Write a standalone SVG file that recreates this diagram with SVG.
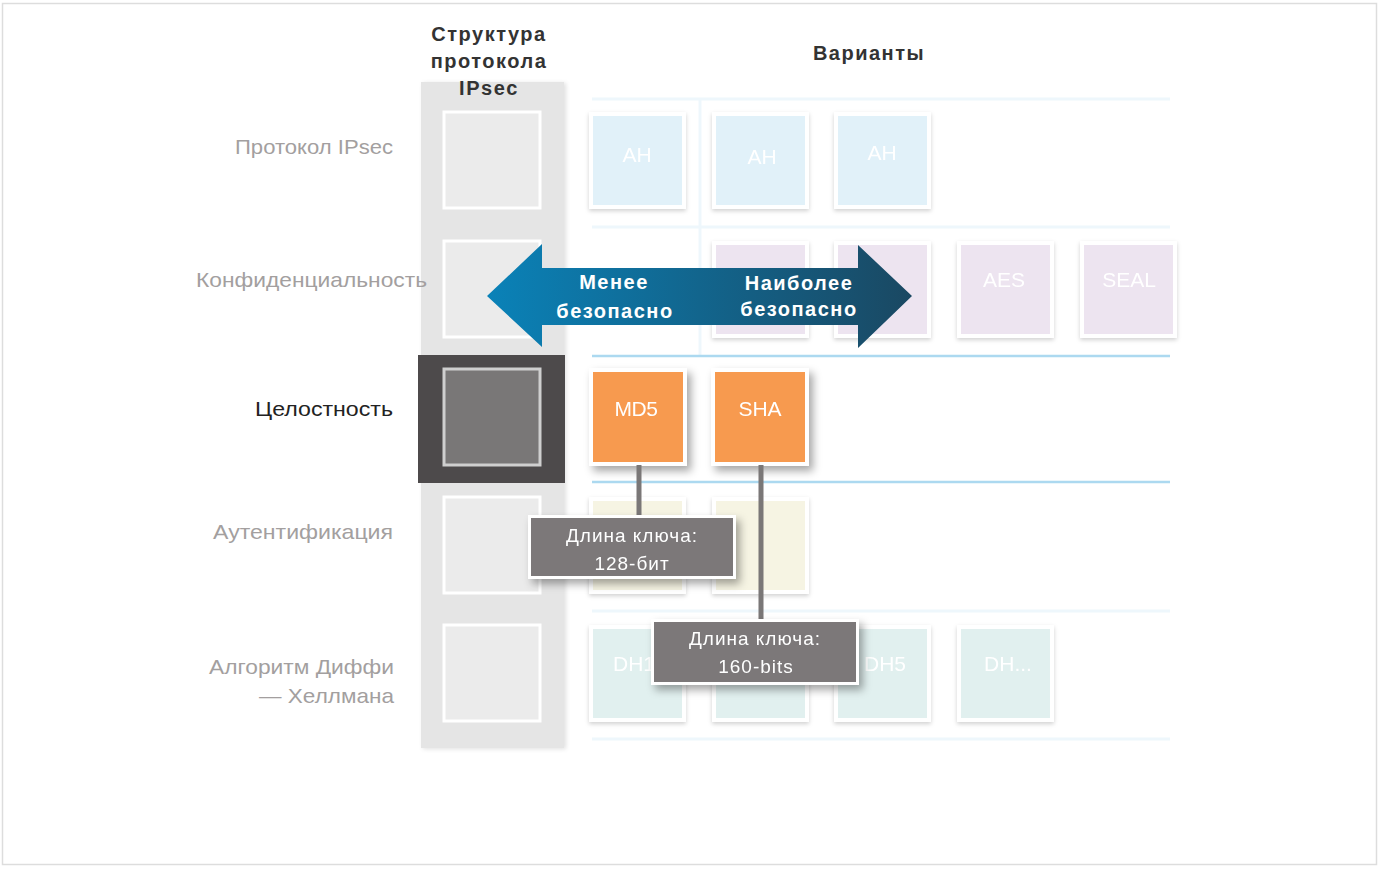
<svg xmlns="http://www.w3.org/2000/svg" width="1381" height="870" viewBox="0 0 1381 870">
  <defs>
    <style>
      .lbl { font-family: "Liberation Sans", Arial, sans-serif; font-size: 21px; fill: #a39f9f; text-anchor: end; }
      .hdr { font-family: "Liberation Sans", Arial, sans-serif; font-size: 20px; font-weight: bold; fill: #333333; text-anchor: middle; letter-spacing: 1.5px; }
      .bt { font-family: "Liberation Sans", Arial, sans-serif; font-size: 21px; fill: #ffffff; text-anchor: middle; }
      .at { font-family: "Liberation Sans", Arial, sans-serif; font-size: 20px; font-weight: bold; fill: #ffffff; text-anchor: middle; letter-spacing: 1.5px; }
      .ct { font-family: "Liberation Sans", Arial, sans-serif; font-size: 19px; fill: #ffffff; text-anchor: middle; letter-spacing: 1px; }
      .box { stroke: #ffffff; stroke-width: 4; }
      .colbox { fill: #ebebeb; stroke: #ffffff; stroke-width: 3; }
      .row { stroke: #eef7fc; stroke-width: 3; }
      .rowhi { stroke: #acd9f0; stroke-width: 2.5; }
      .conn { stroke: #7a7777; stroke-width: 5; fill: none; }
      .call { fill: #7b7879; stroke: #ffffff; stroke-width: 3; }
    </style>
    <filter id="sh" x="-20%" y="-20%" width="140%" height="150%">
      <feDropShadow dx="0" dy="2" stdDeviation="2" flood-color="#000" flood-opacity="0.18"/>
    </filter>
    <filter id="sh2" x="-20%" y="-30%" width="150%" height="170%">
      <feDropShadow dx="4" dy="5" stdDeviation="4" flood-color="#000" flood-opacity="0.35"/>
    </filter>
    <filter id="sh3" x="-10%" y="-5%" width="130%" height="110%">
      <feDropShadow dx="2" dy="1" stdDeviation="2" flood-color="#000" flood-opacity="0.12"/>
    </filter>
    <linearGradient id="ag" x1="0" y1="0" x2="1" y2="0">
      <stop offset="0" stop-color="#0a82b8"/>
      <stop offset="1" stop-color="#1a4862"/>
    </linearGradient>
  </defs>

  <rect x="0" y="0" width="1381" height="870" fill="#ffffff"/>
  <rect x="2.5" y="3.5" width="1374" height="861" fill="none" stroke="#dddddd" stroke-width="1.5"/>

  <!-- structure column -->
  <g id="column">
    <rect x="421" y="82" width="143" height="666" fill="#e5e5e5" filter="url(#sh3)"/>
    <rect x="418" y="355" width="147" height="128" fill="#4d4a4b"/>
    <rect class="colbox" x="444" y="112" width="96" height="96"/>
    <rect class="colbox" x="444" y="241" width="96" height="96"/>
    <rect x="444" y="369" width="96" height="96" fill="#797777" stroke="#cfcfcf" stroke-width="3"/>
    <rect class="colbox" x="444" y="497" width="96" height="96"/>
    <rect class="colbox" x="444" y="625" width="96" height="96"/>
  </g>

  <!-- row lines -->
  <g id="rows">
    <line class="row" x1="592" y1="99" x2="1170" y2="99"/>
    <line class="row" x1="592" y1="227" x2="1170" y2="227"/>
    <line class="row" x1="700" y1="99" x2="700" y2="355"/>
    <line class="rowhi" x1="592" y1="356" x2="1170" y2="356"/>
    <line class="rowhi" x1="592" y1="482" x2="1170" y2="482"/>
    <line class="row" x1="592" y1="611" x2="1170" y2="611"/>
    <line class="row" x1="592" y1="739" x2="1170" y2="739"/>
  </g>

  <!-- headers -->
  <g id="headers">
    <text class="hdr" x="489" y="41">Структура</text>
    <text class="hdr" x="489" y="68">протокола</text>
    <text class="hdr" x="489" y="95">IPsec</text>
    <text class="hdr" x="869" y="60">Варианты</text>
  </g>

  <!-- left labels -->
  <g id="labels">
    <text class="lbl" x="393" y="154" textLength="158" lengthAdjust="spacingAndGlyphs">Протокол IPsec</text>
    <text class="lbl" x="427" y="287" textLength="231" lengthAdjust="spacingAndGlyphs">Конфиденциальность</text>
    <text class="lbl" x="393" y="416" style="fill:#222222" textLength="138" lengthAdjust="spacingAndGlyphs">Целостность</text>
    <text class="lbl" x="393" y="539" textLength="180" lengthAdjust="spacingAndGlyphs">Аутентификация</text>
    <text class="lbl" x="394" y="674" textLength="185" lengthAdjust="spacingAndGlyphs">Алгоритм Диффи</text>
    <text class="lbl" x="394" y="703" textLength="135" lengthAdjust="spacingAndGlyphs">— Хеллмана</text>
  </g>

  <!-- row 1: protocol -->
  <g id="ah1" filter="url(#sh)"><rect class="box" x="591" y="114" width="93" height="93" fill="#e1f1f9"/><text class="bt" x="637" y="162">AH</text></g>
  <g id="ah2" filter="url(#sh)"><rect class="box" x="714" y="114" width="93" height="93" fill="#e1f1f9"/><text class="bt" x="762" y="164">AH</text></g>
  <g id="ah3" filter="url(#sh)"><rect class="box" x="836" y="114" width="93" height="93" fill="#e1f1f9"/><text class="bt" x="882" y="160">AH</text></g>

  <!-- row 2: confidentiality -->
  <g id="conf2" filter="url(#sh)"><rect class="box" x="714" y="243" width="93" height="93" fill="#ede4f0"/></g>
  <g id="conf3" filter="url(#sh)"><rect class="box" x="836" y="243" width="93" height="93" fill="#ede4f0"/></g>
  <g id="aes" filter="url(#sh)"><rect class="box" x="959" y="243" width="93" height="93" fill="#ede4f0"/><text class="bt" x="1004" y="287">AES</text></g>
  <g id="seal" filter="url(#sh)"><rect class="box" x="1082" y="243" width="93" height="93" fill="#ede4f0"/><text class="bt" x="1129" y="287">SEAL</text></g>

  <!-- row 3: integrity -->
  <g id="md5" filter="url(#sh2)"><rect class="box" x="591" y="370" width="94" height="94" fill="#f79a4f"/><text class="bt" x="636" y="416" style="letter-spacing:-0.5px">MD5</text></g>
  <g id="sha" filter="url(#sh2)"><rect class="box" x="713" y="370" width="94" height="94" fill="#f79a4f"/><text class="bt" x="760" y="416">SHA</text></g>

  <!-- row 4: authentication -->
  <g id="auth1" filter="url(#sh)"><rect class="box" x="591" y="499" width="93" height="93" fill="#f6f4e3"/></g>
  <g id="auth2" filter="url(#sh)"><rect class="box" x="714" y="499" width="93" height="93" fill="#f6f4e3"/></g>

  <!-- row 5: DH -->
  <g id="dh1" filter="url(#sh)"><rect class="box" x="591" y="627" width="93" height="93" fill="#e1f0ef"/><text class="bt" x="634" y="671">DH1</text></g>
  <g id="dh2" filter="url(#sh)"><rect class="box" x="714" y="627" width="93" height="93" fill="#e1f0ef"/></g>
  <g id="dh5" filter="url(#sh)"><rect class="box" x="836" y="627" width="93" height="93" fill="#e1f0ef"/><text class="bt" x="885" y="671">DH5</text></g>
  <g id="dhx" filter="url(#sh)"><rect class="box" x="959" y="627" width="93" height="93" fill="#e1f0ef"/><text class="bt" x="1008" y="671">DH...</text></g>

  <!-- arrow -->
  <g id="arrow">
    <path d="M487,296 L542,244 L542,268 L858,268 L858,245 L912,296 L858,348 L858,325 L542,325 L542,347 Z" fill="url(#ag)"/>
    <text class="at" x="614" y="289">Менее</text>
    <text class="at" x="615" y="318">безопасно</text>
    <text class="at" x="799" y="290">Наиболее</text>
    <text class="at" x="799" y="316">безопасно</text>
  </g>

  <!-- connectors -->
  <g id="connectors">
    <line class="conn" x1="639" y1="465" x2="639" y2="518"/>
    <line class="conn" x1="761" y1="465" x2="761" y2="621"/>
  </g>

  <!-- callouts -->
  <g id="callout1" filter="url(#sh2)">
    <rect class="call" x="529.5" y="516.5" width="205" height="61"/>
    <text class="ct" x="632" y="542">Длина ключа:</text>
    <text class="ct" x="632" y="570">128-бит</text>
  </g>
  <g id="callout2" filter="url(#sh2)">
    <rect class="call" x="652.5" y="620.5" width="205" height="63"/>
    <text class="ct" x="755" y="645">Длина ключа:</text>
    <text class="ct" x="756" y="673">160-bits</text>
  </g>
</svg>
